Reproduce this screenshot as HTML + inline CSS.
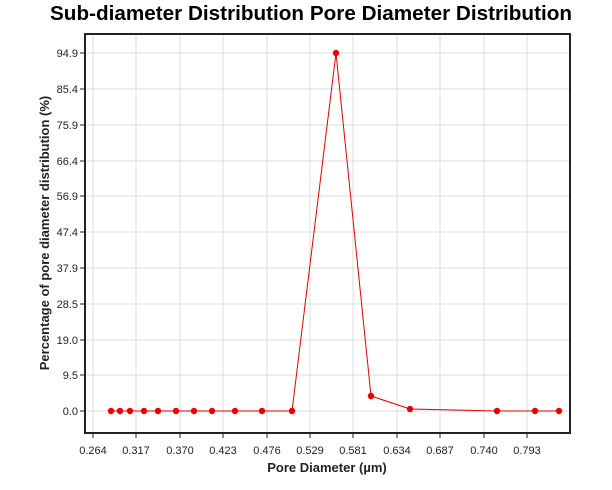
<!DOCTYPE html><html><head><style>body{margin:0;background:#fff}svg{display:block}</style></head><body>
<svg width="612" height="490" xmlns="http://www.w3.org/2000/svg" font-family="Liberation Sans, sans-serif">
<text x="311" y="20" text-anchor="middle" font-size="20" font-weight="bold" fill="#000" textLength="522" lengthAdjust="spacingAndGlyphs">Sub-diameter Distribution Pore Diameter Distribution</text>
<g stroke="#dcdcdc" stroke-width="1">
<line x1="93" y1="34" x2="93" y2="433"/><line x1="136" y1="34" x2="136" y2="433"/><line x1="180" y1="34" x2="180" y2="433"/><line x1="223" y1="34" x2="223" y2="433"/><line x1="267" y1="34" x2="267" y2="433"/><line x1="310" y1="34" x2="310" y2="433"/><line x1="353" y1="34" x2="353" y2="433"/><line x1="397" y1="34" x2="397" y2="433"/><line x1="440" y1="34" x2="440" y2="433"/><line x1="484" y1="34" x2="484" y2="433"/><line x1="527" y1="34" x2="527" y2="433"/>
<line x1="85" y1="53" x2="570" y2="53"/><line x1="85" y1="89" x2="570" y2="89"/><line x1="85" y1="125" x2="570" y2="125"/><line x1="85" y1="161" x2="570" y2="161"/><line x1="85" y1="196" x2="570" y2="196"/><line x1="85" y1="232" x2="570" y2="232"/><line x1="85" y1="268" x2="570" y2="268"/><line x1="85" y1="304" x2="570" y2="304"/><line x1="85" y1="340" x2="570" y2="340"/><line x1="85" y1="375" x2="570" y2="375"/><line x1="85" y1="411" x2="570" y2="411"/>
</g>
<rect x="85" y="34" width="485" height="399" fill="none" stroke="#222" stroke-width="2"/>
<g stroke="#222" stroke-width="1">
<line x1="80" y1="53" x2="85" y2="53"/><line x1="80" y1="89" x2="85" y2="89"/><line x1="80" y1="125" x2="85" y2="125"/><line x1="80" y1="161" x2="85" y2="161"/><line x1="80" y1="196" x2="85" y2="196"/><line x1="80" y1="232" x2="85" y2="232"/><line x1="80" y1="268" x2="85" y2="268"/><line x1="80" y1="304" x2="85" y2="304"/><line x1="80" y1="340" x2="85" y2="340"/><line x1="80" y1="375" x2="85" y2="375"/><line x1="80" y1="411" x2="85" y2="411"/>
<line x1="93" y1="433" x2="93" y2="438"/><line x1="136" y1="433" x2="136" y2="438"/><line x1="180" y1="433" x2="180" y2="438"/><line x1="223" y1="433" x2="223" y2="438"/><line x1="267" y1="433" x2="267" y2="438"/><line x1="310" y1="433" x2="310" y2="438"/><line x1="353" y1="433" x2="353" y2="438"/><line x1="397" y1="433" x2="397" y2="438"/><line x1="440" y1="433" x2="440" y2="438"/><line x1="484" y1="433" x2="484" y2="438"/><line x1="527" y1="433" x2="527" y2="438"/>
</g>
<g font-size="11" fill="#222" text-anchor="end">
<text x="78" y="57">94.9</text><text x="78" y="93">85.4</text><text x="78" y="129">75.9</text><text x="78" y="165">66.4</text><text x="78" y="200">56.9</text><text x="78" y="236">47.4</text><text x="78" y="272">37.9</text><text x="78" y="308">28.5</text><text x="78" y="344">19.0</text><text x="78" y="379">9.5</text><text x="78" y="415">0.0</text>
</g>
<g font-size="11" fill="#222" text-anchor="middle">
<text x="93" y="454">0.264</text><text x="136" y="454">0.317</text><text x="180" y="454">0.370</text><text x="223" y="454">0.423</text><text x="267" y="454">0.476</text><text x="310" y="454">0.529</text><text x="353" y="454">0.581</text><text x="397" y="454">0.634</text><text x="440" y="454">0.687</text><text x="484" y="454">0.740</text><text x="527" y="454">0.793</text>
</g>
<text x="327" y="472" text-anchor="middle" font-size="13" font-weight="bold" fill="#222">Pore Diameter (µm)</text>
<text transform="translate(49,233) rotate(-90)" text-anchor="middle" font-size="13" font-weight="bold" fill="#222">Percentage of pore diameter distribution (%)</text>
<polyline fill="none" stroke="#e00000" stroke-width="1" points="111,411 120,411 130,411 144,411 158,411 176,411 194,411 212,411 235,411 262,411 292,411 336,53 371,396 410,409 497,411 535,411 559,411"/>
<g fill="#e80000">
<circle cx="111" cy="411" r="3.2"/><circle cx="120" cy="411" r="3.2"/><circle cx="130" cy="411" r="3.2"/><circle cx="144" cy="411" r="3.2"/><circle cx="158" cy="411" r="3.2"/><circle cx="176" cy="411" r="3.2"/><circle cx="194" cy="411" r="3.2"/><circle cx="212" cy="411" r="3.2"/><circle cx="235" cy="411" r="3.2"/><circle cx="262" cy="411" r="3.2"/><circle cx="292" cy="411" r="3.2"/><circle cx="336" cy="53" r="3.2"/><circle cx="371" cy="396" r="3.2"/><circle cx="410" cy="409" r="3.2"/><circle cx="497" cy="411" r="3.2"/><circle cx="535" cy="411" r="3.2"/><circle cx="559" cy="411" r="3.2"/>
</g>
</svg></body></html>
